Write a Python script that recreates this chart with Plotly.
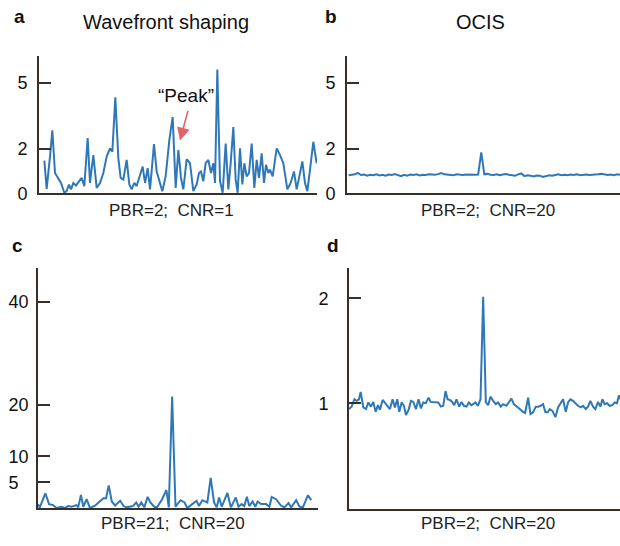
import plotly.graph_objects as go

# ---- data ----
pos_a = [133,140,150,157,165,175,183,193,200,207,213,220,228,235,245,253,263,270,280,290,
         300,310,320,330,337,346,355,362,370,380,388,395,403,410,418,428,435,443,450,462,
         470,478,487,497,508,518,527,535,543,550,560,570,580,590,597,603,610,617,625,633,
         640,645,652,660,668,677,685,692,700,707,713,720,727,733,740,747,755,763,770,777,
         785,792,798,805,810,818,830,840,850,862,872,882,890,898,907,915,922,930,940,950]
val_a = [1.48,0.2,1.66,2.84,0.92,0.7,0.47,0.03,0.1,0.4,0.18,0.47,0.36,0.5,0.7,0.33,2.5,0.47,1.73,0.25,
         0.47,0.92,1.66,2.03,1.88,4.33,1.59,0.7,0.62,1.51,0.4,0.18,0.47,0.33,0.7,1.21,0.47,1.14,0.18,2.22,
         0.99,0.55,0.1,0.77,2.4,3.44,0.25,1.96,0.7,0.18,1.54,1.36,0.1,0.4,0.92,0.99,0.55,1.36,1.51,0.92,
         1.36,0.47,5.59,0.55,0.03,2.25,0.18,1.36,2.99,0.62,0.03,2.03,0.4,1.36,0.77,0.92,2.25,0.25,1.51,0.7,
         1.81,0.47,1.29,0.92,1.07,0.77,2.03,1.73,1.36,0.18,0.47,0.99,0.18,0.77,1.44,0.47,0.1,1.07,2.33,1.36]

val_b = [0.82,0.84,0.86,0.92,0.83,0.85,0.80,0.84,0.82,0.86,0.81,0.84,0.80,0.85,0.83,0.87,0.82,0.78,0.84,0.80,
         0.85,0.83,0.86,0.81,0.84,0.83,0.86,0.85,0.84,0.87,0.92,0.86,0.84,0.85,0.82,0.86,0.84,0.83,0.85,0.84,
         0.86,0.84,0.85,1.85,0.86,0.88,0.84,0.83,0.86,0.82,0.85,0.87,0.84,0.81,0.80,0.86,0.90,0.78,0.82,0.80,
         0.76,0.81,0.80,0.74,0.79,0.82,0.80,0.84,0.86,0.82,0.84,0.82,0.85,0.83,0.86,0.82,0.84,0.85,0.83,0.84,
         0.82,0.86,0.88,0.84,0.83,0.85,0.82,0.86,0.84]
pos_b = list(range(len(val_b)))

pos_c = [115,120,137,148,160,170,185,195,205,215,230,235,243,250,260,270,285,300,310,318,
         326,335,345,360,370,380,390,398,408,415,423,432,442,450,462,470,485,498,505,515,
         525,540,552,560,575,588,595,605,620,630,640,648,655,663,680,690,705,713,722,730,
         738,745,755,763,770,780,795,805,812,825,840,850,862,870,885,895,905,920,930]
val_c = [0.76,0.1,2.86,0.76,0.57,0,0.25,0,0.38,0.25,0.57,0.13,2.54,0.25,1.71,0,0.44,1.27,1.9,1.9,
         4.38,1.27,0.5,1.4,0.38,0.13,0.25,0.38,1.08,0.25,1.08,0.13,2.16,1.08,0.25,0.13,1.71,3.49,0.13,21.6,
         0.25,1.52,1.08,0,0.76,1.4,0.38,1.52,1.08,5.84,1.08,0.13,2.03,0.25,2.92,0.13,2.03,0.25,0.76,0.38,
         2.16,0.38,1.27,0.25,1.27,0.76,0.76,0.25,2.16,1.71,0.44,0.13,0.95,0.13,1.52,0.25,0.13,2.48,1.52]

pos_d = [117,125,133,140,147,152,160,168,175,183,190,197,204,210,218,226,234,240,248,255,
         262,268,275,282,288,296,303,310,318,326,333,340,348,356,362,370,378,385,393,400,
         407,413,420,427,433,440,448,455,462,470,477,484,490,497,504,512,520,528,535,542,
         550,558,565,573,580,590,598,605,612,620,630,640,646,655,662,670,678,685,693,700,
         707,714,720,728,737,745,752,760,768,775,782,790,797,805,813,820,828,835,842,850,
         857,865,872,878,885,892,900,908,915,922,928,935]
val_d = [0.947,0.97,1.04,1.025,1.04,1.11,0.963,0.947,1.01,0.97,1.015,0.92,0.984,0.94,1.034,1.003,0.97,0.947,1.04,0.963,
         1.04,0.92,1.01,0.978,0.89,0.94,1.025,1.015,0.947,1.04,0.953,1.01,1.003,1.056,1.015,1.015,1.01,1.01,0.97,0.978,
         1.118,1.04,1.034,1.015,0.984,1.04,0.97,1.015,0.978,0.97,1.01,0.984,0.994,1.01,0.978,1.04,2.015,1.01,0.984,1.065,
         1.025,0.994,1.01,0.97,0.994,0.978,1.015,1.047,0.994,0.97,0.947,0.92,0.91,1.056,0.9,0.916,0.97,0.97,0.978,0.994,
         0.916,0.916,0.947,0.93,0.87,0.963,0.994,1.04,0.92,1.01,1.04,1.025,1.003,0.978,0.963,0.978,0.947,0.97,1.025,0.97,
         0.947,1.015,0.97,1.04,0.994,1.003,0.978,0.984,1.01,1.003,1.078,1.025]

ticks_a = [0, 2, 5]
ticks_b = [0, 2, 5]
ticks_c = [5, 10, 20, 40]
ticks_c_text = ["5\u00a0\u00a0", "10", "20", "40"]
ticks_d = [1, 2]

titles = ["Wavefront shaping", "OCIS"]
letters = ["a", "b", "c", "d"]
xlabels = ["PBR=2;\u00a0 CNR=1", "PBR=2;\u00a0 CNR=20", "PBR=21;\u00a0 CNR=20", "PBR=2;\u00a0 CNR=20"]

# ---- styling ----
W, H = 620, 546
LINE = "#2f78b7"
AXC = "#3b2e26"
FONT = "Liberation Sans, Arial, sans-serif"

def px(x):
    return x / W

def py(y):
    return 1 - y / H

fig = go.Figure()
series = [(pos_a, val_a), (pos_b, val_b), (pos_c, val_c), (pos_d, val_d)]
for i, (xs, ys) in enumerate(series):
    sfx = "" if i == 0 else str(i + 1)
    fig.add_trace(go.Scatter(x=xs, y=ys, mode="lines",
                             line=dict(color=LINE, width=2),
                             xaxis="x" + sfx, yaxis="y" + sfx, showlegend=False,
                             hoverinfo="skip"))

xdoms = [[px(39), px(317)], [px(347), 1.0], [px(38), px(318)], [px(349), 1.0]]
ydoms = [[py(197), py(57)], [py(197), py(57)], [py(517.5), py(273)], [py(518), py(273)]]
xranges = [[117, 951], [-0.54, 88], [115, 950], [117, 931]]
yranges = [[0, 6.2], [0, 6.2], [0, 46.5], [0, 2.29]]
yticks = [(ticks_a, [str(t) for t in ticks_a]), (ticks_b, [str(t) for t in ticks_b]),
          (ticks_c, ticks_c_text), (ticks_d, [str(t) for t in ticks_d])]
standoffs = [6, 6, 4, 15]

layout = dict(width=W, height=H, margin=dict(l=0, r=0, t=0, b=0),
              paper_bgcolor="white", plot_bgcolor="white",
              font=dict(family=FONT, color="#111111"))
for i in range(4):
    sfx = "" if i == 0 else str(i + 1)
    layout["xaxis" + sfx] = dict(domain=xdoms[i], range=xranges[i], anchor="y" + sfx,
                                 showline=True, linecolor=AXC, linewidth=1.8,
                                 showticklabels=False, ticks="", showgrid=False,
                                 zeroline=False, fixedrange=True)
    layout["yaxis" + sfx] = dict(domain=ydoms[i], range=yranges[i], anchor="x" + sfx,
                                 showline=True, linecolor=AXC, linewidth=1.8,
                                 ticks="inside", ticklen=12, tickwidth=1.6, tickcolor=AXC,
                                 tickvals=yticks[i][0], ticktext=yticks[i][1],
                                 tickfont=dict(size=18, color="#111111", family=FONT),
                                 ticklabelstandoff=standoffs[i],
                                 showgrid=False, zeroline=False, fixedrange=True)
fig.update_layout(**layout)

ann = []
letter_pos = [(19, 17), (331, 17), (17, 250), (333, 250)]
for t, (x, y) in zip(letters, letter_pos):
    ann.append(dict(text="<b>%s</b>" % t, x=px(x), y=py(y), xref="paper", yref="paper",
                    showarrow=False, xanchor="center", yanchor="middle",
                    font=dict(size=19, color="#111111", family=FONT)))
title_pos = [(166, 22), (480, 22)]
for t, (x, y) in zip(titles, title_pos):
    ann.append(dict(text=t, x=px(x), y=py(y), xref="paper", yref="paper",
                    showarrow=False, xanchor="center", yanchor="middle",
                    font=dict(size=20, color="#111111", family=FONT)))
xl_pos = [(171, 214), (487.5, 214), (173, 533), (487.5, 533)]
for t, (x, y) in zip(xlabels, xl_pos):
    ann.append(dict(text=t, x=px(x), y=py(y), xref="paper", yref="paper",
                    showarrow=False, xanchor="center", yanchor="middle",
                    font=dict(size=17, color="#222222", family=FONT)))
# "Peak" label and arrow
ann.append(dict(text="\u201cPeak\u201d", x=px(186), y=py(97), xref="paper", yref="paper",
                showarrow=False, xanchor="center", yanchor="middle",
                font=dict(size=19, color="#111111", family=FONT)))
ann.append(dict(text="", x=540, y=2.39, xref="x", yref="y",
                ax=565, ay=3.79, axref="x", ayref="y",
                showarrow=True, arrowhead=2, arrowsize=1.6, arrowwidth=1.6,
                arrowcolor="#e8606a"))
fig.update_layout(annotations=ann)

fig.write_html("out.html", config={"displayModeBar": False},
               post_script="document.documentElement.style.margin='0px';document.body.style.margin='0px';"
                           "document.body.style.overflow='hidden';document.documentElement.style.overflow='hidden';")
